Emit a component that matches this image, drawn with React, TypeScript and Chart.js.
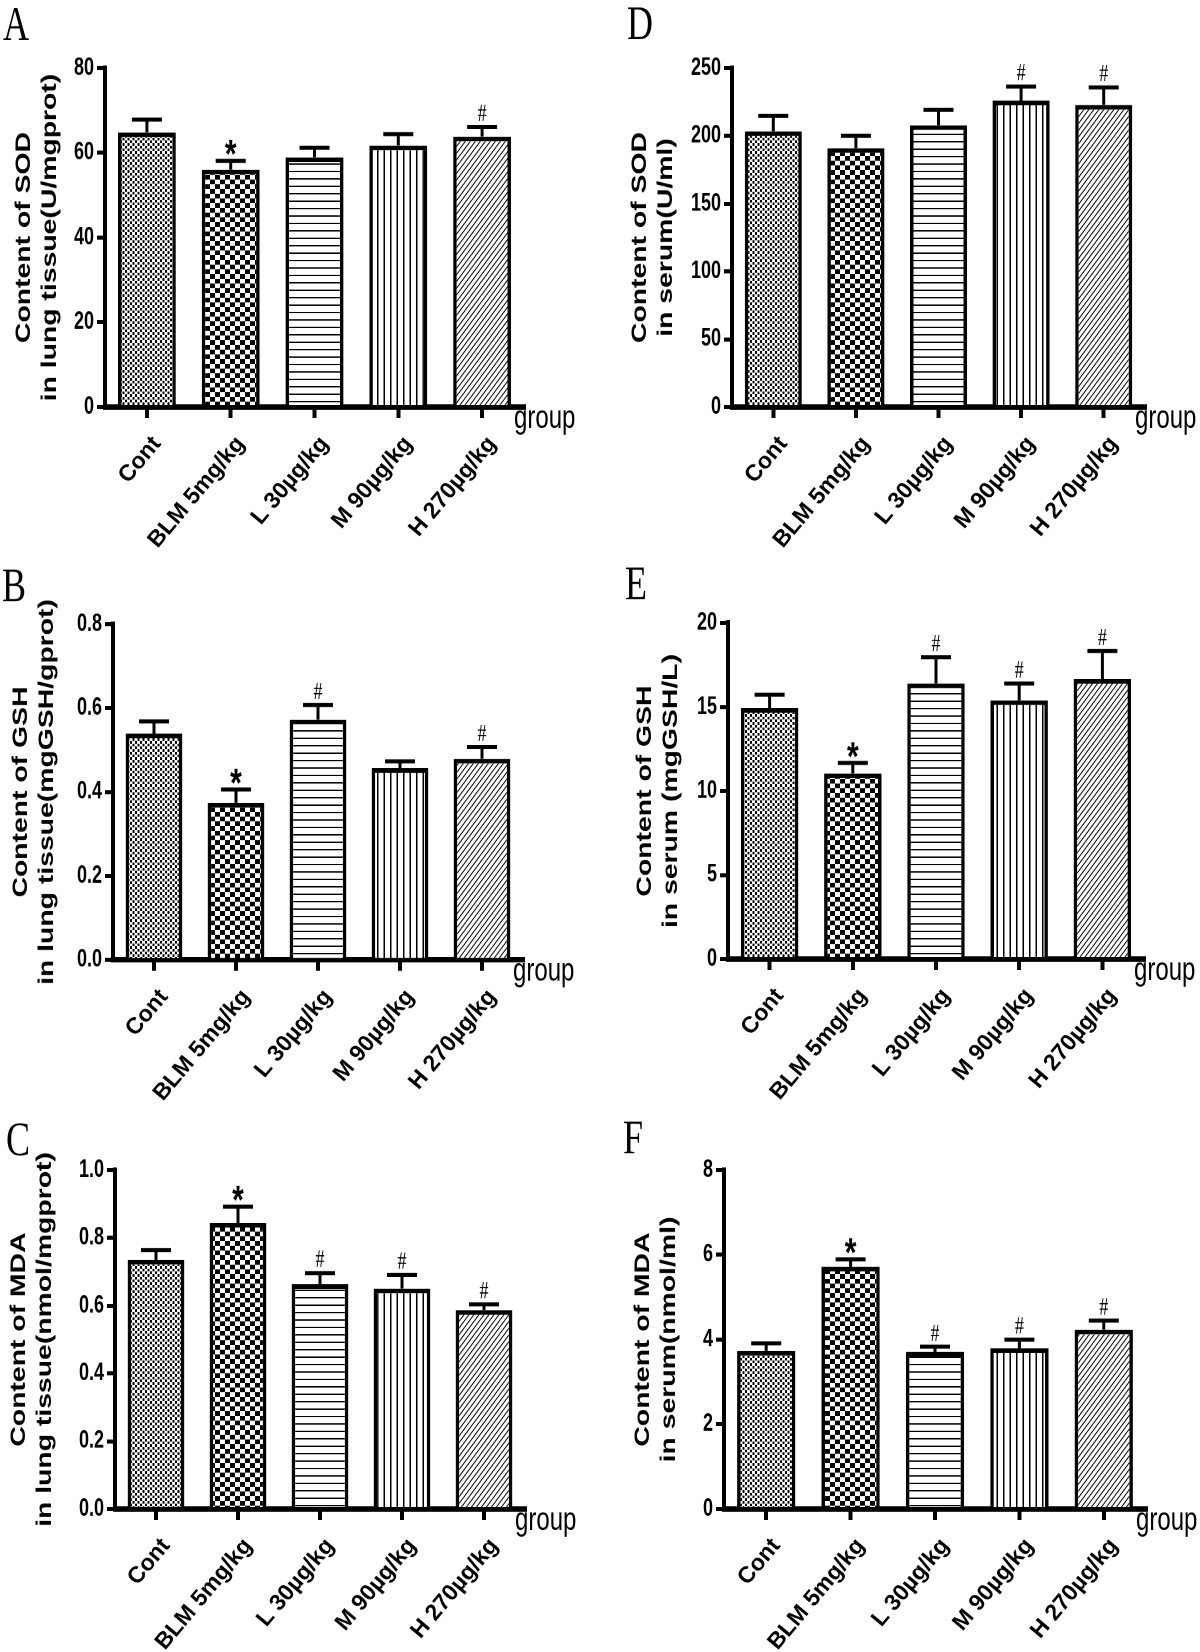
import React, { useEffect, useRef } from 'react';
import { Chart, registerables } from 'chart.js';

Chart.register(...registerables);

// ---------------- data ----------------
const categories = ['Cont', 'BLM 5mg/kg', 'L 30µg/kg', 'M 90µg/kg', 'H 270µg/kg'];

// A: SOD in lung tissue
const sodLung = [64.8, 56.0, 58.9, 61.7, 63.8];
const sodLungErr = [3.0, 2.1, 2.3, 2.7, 2.3];
const sodLungSig = ['', '*', '', '', '#'];
const sodLungTicks = [0, 20, 40, 60, 80];
const sodLungTickLabels = ['0', '20', '40', '60', '80'];
const sodLungTitle = ['Content of SOD', 'in lung tissue(U/mgprot)'];

// D: SOD in serum
const sodSerum = [203.3, 190.9, 207.8, 226.0, 222.8];
const sodSerumErr = [11.3, 9.2, 11.3, 10.3, 12.9];
const sodSerumSig = ['', '', '', '#', '#'];
const sodSerumTicks = [0, 50, 100, 150, 200, 250];
const sodSerumTickLabels = ['0', '50', '100', '150', '200', '250'];
const sodSerumTitle = ['Content of SOD', 'in serum(U/ml)'];

// B: GSH in lung tissue
const gshLung = [0.539, 0.374, 0.572, 0.457, 0.479];
const gshLungErr = [0.029, 0.032, 0.035, 0.016, 0.028];
const gshLungSig = ['', '*', '#', '', '#'];
const gshLungTicks = [0, 0.2, 0.4, 0.6, 0.8];
const gshLungTickLabels = ['0.0', '0.2', '0.4', '0.6', '0.8'];
const gshLungTitle = ['Content of GSH', 'in lung tissue(mgGSH/gprot)'];

// E: GSH in serum
const gshSerum = [14.94, 11.04, 16.4, 15.4, 16.67];
const gshSerumErr = [0.79, 0.63, 1.56, 1.0, 1.66];
const gshSerumSig = ['', '*', '#', '#', '#'];
const gshSerumTicks = [0, 5, 10, 15, 20];
const gshSerumTickLabels = ['0', '5', '10', '15', '20'];
const gshSerumTitle = ['Content of GSH', 'in serum (mgGSH/L)'];

// C: MDA in lung tissue
const mdaLung = [0.735, 0.844, 0.663, 0.65, 0.587];
const mdaLungErr = [0.029, 0.048, 0.033, 0.041, 0.017];
const mdaLungSig = ['', '*', '#', '#', '#'];
const mdaLungTicks = [0, 0.2, 0.4, 0.6, 0.8, 1.0];
const mdaLungTickLabels = ['0.0', '0.2', '0.4', '0.6', '0.8', '1.0'];
const mdaLungTitle = ['Content of MDA', 'in lung tissue(nmol/mgprot)'];

// F: MDA in serum
const mdaSerum = [3.73, 5.72, 3.71, 3.79, 4.23];
const mdaSerumErr = [0.18, 0.17, 0.12, 0.21, 0.22];
const mdaSerumSig = ['', '*', '#', '#', '#'];
const mdaSerumTicks = [0, 2, 4, 6, 8];
const mdaSerumTickLabels = ['0', '2', '4', '6', '8'];
const mdaSerumTitle = ['Content of MDA', 'in serum(nmol/ml)'];

const axisTitleX = 'group';

// ---------------- layout ----------------
const PANEL_W = 600;
const CANVAS_H = 410;
const K = 1.35; // vertical stretch of the original figure
const LABEL_ANGLE = 50; // degrees, as seen on the page
const SANS = 'Arial, "Liberation Sans", Helvetica, sans-serif';
const SERIF = '"Liberation Serif", "Times New Roman", serif';

type PanelCfg = {
  letter: string;
  values: number[];
  errors: number[];
  sig: string[];
  tickValues: number[];
  tickLabels: string[];
  title: string[];
  left: number;
  top: number;
  plot: { l: number; r: number; t: number; b: number };
  titleX: number;
  letterX: number;
  letterY: number;
};

const panels: PanelCfg[] = [
  { letter: 'A', values: sodLung, errors: sodLungErr, sig: sodLungSig, tickValues: sodLungTicks, tickLabels: sodLungTickLabels, title: sodLungTitle,
    left: 0, top: 0, plot: { l: 105, r: 524, t: 68, b: 407 }, titleX: 24, letterX: 3, letterY: 3 },
  { letter: 'D', values: sodSerum, errors: sodSerumErr, sig: sodSerumSig, tickValues: sodSerumTicks, tickLabels: sodSerumTickLabels, title: sodSerumTitle,
    left: 600, top: 0, plot: { l: 132, r: 545, t: 68, b: 407 }, titleX: 40, letterX: 27, letterY: 2 },
  { letter: 'B', values: gshLung, errors: gshLungErr, sig: gshLungSig, tickValues: gshLungTicks, tickLabels: gshLungTickLabels, title: gshLungTitle,
    left: 0, top: 552, plot: { l: 113, r: 523, t: 72, b: 408 }, titleX: 21, letterX: 2, letterY: 12 },
  { letter: 'E', values: gshSerum, errors: gshSerumErr, sig: gshSerumSig, tickValues: gshSerumTicks, tickLabels: gshSerumTickLabels, title: gshSerumTitle,
    left: 600, top: 552, plot: { l: 128, r: 544, t: 71, b: 407 }, titleX: 45, letterX: 25, letterY: 10 },
  { letter: 'C', values: mdaLung, errors: mdaLungErr, sig: mdaLungSig, tickValues: mdaLungTicks, tickLabels: mdaLungTickLabels, title: mdaLungTitle,
    left: 0, top: 1104, plot: { l: 115, r: 525, t: 66, b: 405 }, titleX: 19, letterX: 6, letterY: 14 },
  { letter: 'F', values: mdaSerum, errors: mdaSerumErr, sig: mdaSerumSig, tickValues: mdaSerumTicks, tickLabels: mdaSerumTickLabels, title: mdaSerumTitle,
    left: 600, top: 1104, plot: { l: 124, r: 546, t: 66, b: 405 }, titleX: 43, letterX: 23, letterY: 12 },
];

// ---------------- patterns ----------------
function tile(w: number, h: number, draw: (g: CanvasRenderingContext2D) => void): CanvasPattern {
  const c = document.createElement('canvas');
  c.width = w;
  c.height = h;
  const g = c.getContext('2d') as CanvasRenderingContext2D;
  g.fillStyle = '#ffffff';
  g.fillRect(0, 0, w, h);
  g.fillStyle = '#000000';
  g.strokeStyle = '#000000';
  draw(g);
  const p = g.createPattern(c, 'repeat') as CanvasPattern;
  try {
    p.setTransform(new DOMMatrix([0.5, 0, 0, 0.5, 0, 0]));
  } catch (e) {
    /* ignore */
  }
  return p;
}

function makePatterns(): CanvasPattern[] {
  return [
    // fine dots
    tile(10, 8, (g) => {
      g.fillRect(0, 0, 4, 4);
      g.fillRect(5, 4, 4, 4);
    }),
    // coarse checkerboard
    tile(20, 14, (g) => {
      g.fillRect(0, 0, 10, 7);
      g.fillRect(10, 7, 10, 7);
    }),
    // horizontal lines
    tile(4, 11, (g) => {
      g.fillRect(0, 0, 4, 2);
    }),
    // vertical lines
    tile(13, 4, (g) => {
      g.fillRect(0, 0, 3, 4);
    }),
    // diagonal hatch
    tile(10, 10, (g) => {
      g.lineWidth = 1.6;
      g.beginPath();
      g.moveTo(0, 10);
      g.lineTo(10, 0);
      g.moveTo(-1, 1);
      g.lineTo(1, -1);
      g.moveTo(9, 11);
      g.lineTo(11, 9);
      g.stroke();
    }),
  ];
}

// ---------------- overlay plugin ----------------
function overlayPlugin(cfg: PanelCfg) {
  return {
    id: 'overlay' + cfg.letter,
    afterDatasetsDraw(chart: any) {
      const ctx: CanvasRenderingContext2D = chart.ctx;
      const y = chart.scales.y;
      const meta = chart.getDatasetMeta(0);
      ctx.save();
      ctx.strokeStyle = '#000';
      ctx.fillStyle = '#000';
      ctx.lineCap = 'butt';
      meta.data.forEach((bar: any, i: number) => {
        const yv = y.getPixelForValue(cfg.values[i]);
        const ye = y.getPixelForValue(cfg.values[i] + cfg.errors[i]);
        ctx.lineWidth = 3;
        ctx.beginPath();
        ctx.moveTo(bar.x, yv);
        ctx.lineTo(bar.x, ye);
        ctx.stroke();
        ctx.beginPath();
        ctx.moveTo(bar.x - 15, ye);
        ctx.lineTo(bar.x + 15, ye);
        ctx.stroke();
        const s = cfg.sig[i];
        if (!s) return;
        ctx.textAlign = 'center';
        ctx.textBaseline = 'alphabetic';
        let gap = 3.5;
        if (s === '*') {
          ctx.font = `bold 30px ${SANS}`;
          gap = 3;
        } else {
          ctx.font = `18px ${SERIF}`;
          gap = 4.5;
        }
        const m = ctx.measureText(s);
        const desc = m.actualBoundingBoxDescent || 0;
        ctx.fillText(s, bar.x, ye - gap - desc);
      });
      ctx.restore();
    },
    afterDraw(chart: any) {
      const ctx: CanvasRenderingContext2D = chart.ctx;
      const area = chart.chartArea;
      const xs = chart.scales.x;

      // category labels, rotated as seen on the page (compensating the vertical stretch)
      categories.forEach((lab, i) => {
        const px = xs.getPixelForTick(i);
        ctx.save();
        ctx.fillStyle = '#000';
        ctx.translate(px + 10, area.bottom + 33 / K);
        ctx.scale(1, 1 / K);
        ctx.rotate((-LABEL_ANGLE * Math.PI) / 180);
        ctx.font = `bold 23px ${SANS}`;
        ctx.textAlign = 'right';
        ctx.textBaseline = 'middle';
        ctx.fillText(lab, 0, 0);
        ctx.restore();
      });

      // y-axis title (two lines)
      ctx.save();
      ctx.fillStyle = '#000';
      ctx.translate(cfg.titleX, (area.top + area.bottom) / 2);
      ctx.rotate(-Math.PI / 2);
      ctx.textAlign = 'center';
      ctx.textBaseline = 'middle';
      ctx.font = `bold 21px ${SANS}`;
      ctx.fillText(cfg.title[0], 0, 0);
      ctx.fillText(cfg.title[1], 0, 26);
      ctx.restore();

      ctx.save();
      ctx.fillStyle = '#000';
      ctx.textAlign = 'left';
      ctx.textBaseline = 'alphabetic';
      ctx.font = `24px ${SANS}`;
      ctx.fillText(axisTitleX, area.right - 10, area.bottom + 15.5);
      ctx.textBaseline = 'top';
      ctx.font = `36px ${SERIF}`;
      ctx.fillText(cfg.letter, cfg.letterX, cfg.letterY / K);
      ctx.restore();
    },
  };
}

// ---------------- components ----------------
function Panel({ cfg }: { cfg: PanelCfg }) {
  const ref = useRef<HTMLCanvasElement>(null);

  useEffect(() => {
    const canvas = ref.current;
    if (!canvas) return;
    const topPre = cfg.plot.t / K;
    const bottomPre = cfg.plot.b / K;
    const maxV = cfg.tickValues[cfg.tickValues.length - 1];
    const chart = new Chart(canvas, {
      type: 'bar',
      data: {
        labels: categories,
        datasets: [
          {
            data: cfg.values,
            backgroundColor: makePatterns() as any,
            borderColor: '#000',
            borderWidth: 3.5,
            borderSkipped: 'start',
            barPercentage: 0.69,
            categoryPercentage: 1,
          },
        ],
      },
      options: {
        responsive: false,
        animation: false,
        devicePixelRatio: 2,
        events: [],
        layout: { padding: { left: 0, top: topPre, right: PANEL_W - cfg.plot.r, bottom: 0 } },
        plugins: { legend: { display: false }, tooltip: { enabled: false }, title: { display: false } },
        scales: {
          x: {
            type: 'category',
            offset: true,
            grid: { display: true, drawOnChartArea: false, drawTicks: true, offset: false, tickLength: 8, lineWidth: 4, color: '#000' },
            border: { display: true, width: 4, color: '#000' },
            ticks: { display: false, autoSkip: false },
            afterFit: (s: any) => {
              s.height = CANVAS_H - bottomPre;
            },
          },
          y: {
            min: 0,
            max: maxV,
            grid: { display: true, drawOnChartArea: false, drawTicks: true, tickLength: 8, lineWidth: 3, color: '#000' },
            border: { display: true, width: 4, color: '#000' },
            afterBuildTicks: (s: any) => {
              s.ticks = cfg.tickValues.map((v) => ({ value: v }));
            },
            ticks: {
              padding: 3,
              color: '#000',
              font: { family: SANS, size: 18, weight: 'bold' },
              callback: (_v: any, i: number) => cfg.tickLabels[i],
            },
            afterFit: (s: any) => {
              s.width = cfg.plot.l;
            },
          },
        },
      } as any,
      plugins: [overlayPlugin(cfg)],
    });
    return () => chart.destroy();
  }, [cfg]);

  return (
    <div
      style={{
        position: 'absolute',
        left: cfg.left,
        top: cfg.top,
        width: PANEL_W,
        height: CANVAS_H,
        transform: `scaleY(${K})`,
        transformOrigin: '0 0',
      }}
    >
      <canvas ref={ref} width={PANEL_W} height={CANVAS_H} style={{ width: PANEL_W, height: CANVAS_H, display: 'block' }} />
    </div>
  );
}

export default function App() {
  return (
    <div
      style={{
        position: 'absolute',
        left: 0,
        top: 0,
        width: 1200,
        height: 1652,
        background: '#ffffff',
        overflow: 'hidden',
      }}
    >
      {panels.map((p) => (
        <Panel key={p.letter} cfg={p} />
      ))}
    </div>
  );
}
